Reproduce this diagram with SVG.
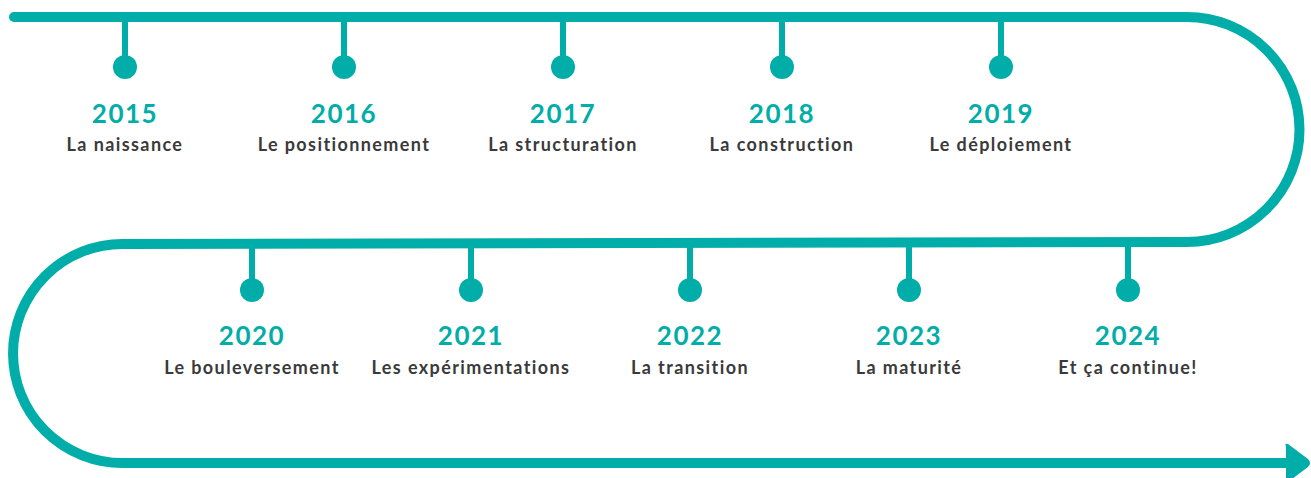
<svg xmlns="http://www.w3.org/2000/svg" width="1311" height="478" viewBox="0 0 1311 478">
<style>
.track{fill:none;stroke:#00ADA8;stroke-width:10;stroke-linecap:round}
.stem{stroke:#00ADA8;stroke-width:6}
.dot{fill:#00ADA8}
.yr{font-family:Lato,"Open Sans",sans-serif;font-weight:700;font-size:26px;fill:#00ADA8;text-anchor:middle;letter-spacing:1.5px}
.lb{font-family:Lato,"Open Sans",sans-serif;font-weight:700;font-size:18px;fill:#3a3a3a;text-anchor:middle;letter-spacing:1.4px}
</style>
<g id="connectors">
<path class="track" d="M 14 17 H 1187 A 112.5 112.5 0 0 1 1187 242 L 122.5 244 A 109.5 109.5 0 0 0 122.5 463 H 1290"/>
<path d="M 1286 446 Q 1284 443 1288 444 L 1308 459 Q 1312 463 1308 467 L 1288 482 Q 1284 483 1286 480 Z" fill="#00ADA8"/>
</g>
<g id="n2015"><line class="stem" x1="125" y1="20" x2="125" y2="60"/><circle class="dot" cx="125" cy="67" r="12"/><text class="yr" x="125" y="123">2015</text><text class="lb" x="125" y="151">La naissance</text></g>
<g id="n2016"><line class="stem" x1="344" y1="20" x2="344" y2="60"/><circle class="dot" cx="344" cy="67" r="12"/><text class="yr" x="344" y="123">2016</text><text class="lb" x="344" y="151">Le positionnement</text></g>
<g id="n2017"><line class="stem" x1="563" y1="20" x2="563" y2="60"/><circle class="dot" cx="563" cy="67" r="12"/><text class="yr" x="563" y="123">2017</text><text class="lb" x="563" y="151">La structuration</text></g>
<g id="n2018"><line class="stem" x1="782" y1="20" x2="782" y2="60"/><circle class="dot" cx="782" cy="67" r="12"/><text class="yr" x="782" y="123">2018</text><text class="lb" x="782" y="151">La construction</text></g>
<g id="n2019"><line class="stem" x1="1001" y1="20" x2="1001" y2="60"/><circle class="dot" cx="1001" cy="67" r="12"/><text class="yr" x="1001" y="123">2019</text><text class="lb" x="1001" y="151">Le déploiement</text></g>
<g id="n2020"><line class="stem" x1="252" y1="246" x2="252" y2="283"/><circle class="dot" cx="252" cy="290" r="12"/><text class="yr" x="252" y="345">2020</text><text class="lb" x="252" y="374">Le bouleversement</text></g>
<g id="n2021"><line class="stem" x1="471" y1="246" x2="471" y2="283"/><circle class="dot" cx="471" cy="290" r="12"/><text class="yr" x="471" y="345">2021</text><text class="lb" x="471" y="374">Les expérimentations</text></g>
<g id="n2022"><line class="stem" x1="690" y1="246" x2="690" y2="283"/><circle class="dot" cx="690" cy="290" r="12"/><text class="yr" x="690" y="345">2022</text><text class="lb" x="690" y="374">La transition</text></g>
<g id="n2023"><line class="stem" x1="909" y1="246" x2="909" y2="283"/><circle class="dot" cx="909" cy="290" r="12"/><text class="yr" x="909" y="345">2023</text><text class="lb" x="909" y="374">La maturité</text></g>
<g id="n2024"><line class="stem" x1="1128" y1="246" x2="1128" y2="283"/><circle class="dot" cx="1128" cy="290" r="12"/><text class="yr" x="1128" y="345">2024</text><text class="lb" x="1128" y="374">Et ça continue!</text></g>
</svg>
